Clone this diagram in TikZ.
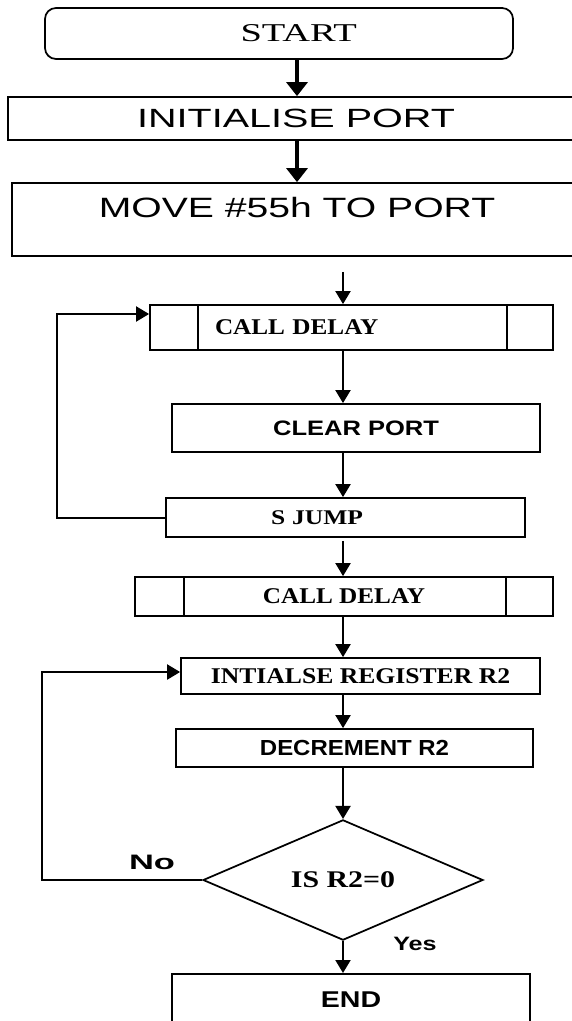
\documentclass[tikz,border=0pt]{standalone}
\usepackage{fontspec}
\usetikzlibrary{shapes.geometric,arrows.meta}
\newfontfamily\flowserif{Liberation Serif}
\newfontfamily\flowsans{Liberation Sans}
% stretched text: #1 stretch, #2 size in pt
\newcommand\widetext[2]{\addfontfeatures{FakeStretch=#1}\fontsize{#2}{#2}\selectfont}
\tikzset{
  flowbox/.style={draw, rectangle, line width=0.035cm, inner sep=0pt},
  bigarrow/.style={line width=0.065cm, -{Triangle[length=0.28cm,width=0.42cm]}},
  arrow/.style={line width=0.04cm, -{Triangle[length=0.26cm,width=0.3cm]}},
  inbar/.style={line width=0.035cm}
}
\begin{document}
\begin{tikzpicture}
\useasboundingbox (0,0) rectangle (11.42,-20.42);

\node [flowbox, rounded corners=0.22cm, minimum height=1.02cm, inner xsep=3.12cm, text width=3.12cm, align=right, font={\flowserif\widetext{1.5}{14.6}}] (v1) at (5.58,-0.67) {START};
\node [flowbox, minimum width=11.52cm, minimum height=0.86cm, font={\flowsans\widetext{1.5}{15}}] (v2) at (5.92,-2.37) {INITIALISE PORT};
\node [flowbox, minimum width=11.4cm, inner ysep=0pt, text height=0.7cm, text depth=0.76cm, font={\flowsans\widetext{1.4}{15.9}}] (v3) at (5.94,-4.39) {MOVE \#55h TO PORT};

\node [flowbox, minimum height=0.9cm, inner xsep=1.3cm, text width=5.46cm, align=left, font={\flowserif\bfseries\widetext{1.12}{12.8}}] (v4) at (7.03,-6.55) {CALL DELAY};
\draw [inbar] ([xshift=0.98cm]v4.north west) -- ([xshift=0.98cm]v4.south west);
\draw [inbar] ([xshift=-0.94cm]v4.north east) -- ([xshift=-0.94cm]v4.south east);
\node [flowbox, minimum width=7.36cm, minimum height=0.96cm, font={\flowsans\bfseries\widetext{1.22}{11.9}}] (v5) at (7.12,-8.56) {CLEAR PORT};
\node [flowbox, minimum height=0.78cm, inner xsep=2.1cm, text width=2.98cm, align=left, font={\flowserif\bfseries\widetext{1.22}{11.9}}] (v6) at (6.91,-10.35) {S JUMP};

\node [flowbox, minimum width=8.36cm, minimum height=0.78cm, font={\flowserif\bfseries\widetext{1.12}{12.8}}] (v7) at (6.88,-11.93) {CALL DELAY};
\draw [inbar] ([xshift=1.0cm]v7.north west) -- ([xshift=1.0cm]v7.south west);
\draw [inbar] ([xshift=-0.96cm]v7.north east) -- ([xshift=-0.96cm]v7.south east);
\node [flowbox, minimum width=7.18cm, minimum height=0.72cm, font={\flowserif\bfseries\widetext{1.14}{12.8}}] (v8) at (7.21,-13.52) {INTIALSE REGISTER R2};
\node [flowbox, minimum width=7.14cm, minimum height=0.76cm, font={\flowsans\bfseries\widetext{1.1}{12.4}}] (v9) at (7.09,-14.96) {DECREMENT R2};
\node [flowbox, diamond, minimum width=5.6cm, minimum height=2.28cm, font={\flowserif\bfseries\widetext{1.25}{13.6}}] (v10) at (6.86,-17.60) {IS R2=0};
\node [flowbox, anchor=north, minimum width=7.16cm, inner ysep=0pt, text height=0.68cm, text depth=0.6cm, font={\flowsans\bfseries\widetext{1.25}{13}}] (v11) at (7.02,-19.46) {END};

\node [font={\flowsans\bfseries\widetext{1.65}{11.9}}] (v12) at (3.04,-17.25) {No};
\node [font={\flowsans\bfseries\widetext{1.3}{11}}] (v13) at (8.30,-18.88) {Yes};

\coordinate (c1) at (5.94,0);
\coordinate (c2) at (6.86,0);
\coordinate (g1) at (6.86,-5.44);
\coordinate (l1) at (1.14,0);
\coordinate (l2) at (0.84,0);

\draw [bigarrow] (v1.south -| c1) -- (v2.north -| c1);
\draw [bigarrow] (v2.south -| c1) -- (v3.north -| c1);
\draw [arrow] (g1) -- (v4.north -| g1);
\draw [arrow] (v4.south -| c2) -- (v5.north -| c2);
\draw [arrow] (v5.south -| c2) -- (v6.north -| c2);
\draw [arrow] (v6.west) -- (v6.west -| l1) |- ([yshift=0.27cm]v4.west);
\draw [arrow] ([yshift=-0.06cm]v6.south -| c2) -- (v7.north -| c2);
\draw [arrow] (v7.south -| c2) -- (v8.north -| c2);
\draw [arrow] (v8.south -| c2) -- (v9.north -| c2);
\draw [arrow] (v9.south -| c2) -- (v10.north);
\draw [arrow] (v10.west) -- (v10.west -| l2) |- ([yshift=0.08cm]v8.west);
\draw [arrow] (v10.south) -- (v11.north -| v10);
\end{tikzpicture}
\end{document}
